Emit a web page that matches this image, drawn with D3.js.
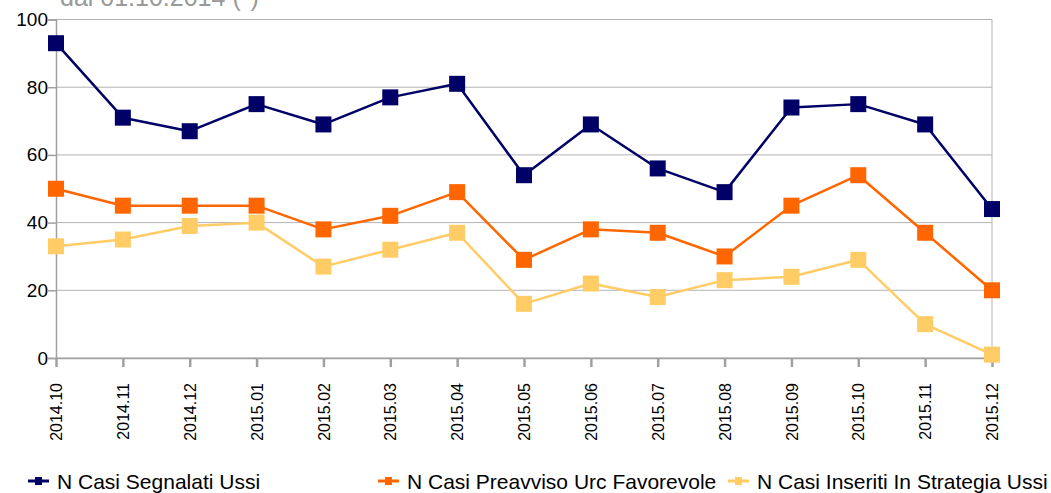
<!DOCTYPE html>
<html>
<head>
<meta charset="utf-8">
<script src="https://d3js.org/d3.v7.min.js"></script>
<style>
  body { margin: 0; background: #fff; }
  svg { display: block; font-family: "Liberation Sans", Arial, sans-serif; }
</style>
</head>
<body>
<svg id="chart" width="1051" height="493"></svg>
<script>
// data
var months = ["2014.10", "2014.11", "2014.12", "2015.01", "2015.02", "2015.03", "2015.04",
  "2015.05", "2015.06", "2015.07", "2015.08", "2015.09", "2015.10", "2015.11", "2015.12"];
var segnalati = [93, 71, 67, 75, 69, 77, 81, 54, 69, 56, 49, 74, 75, 69, 44];
var preavviso = [50, 45, 45, 45, 38, 42, 49, 29, 38, 37, 30, 45, 54, 37, 20];
var inseriti = [33, 35, 39, 40, 27, 32, 37, 16, 22, 18, 23, 24, 29, 10, 1];
var yTicks = [0, 20, 40, 60, 80, 100];
var seriesNames = ["N Casi Segnalati Ussi", "N Casi Preavviso Urc Favorevole", "N Casi Inseriti In Strategia Ussi"];
var colors = ["#000066", "#ff6600", "#ffcc66"];

var svg = d3.select("#chart");
var plotLeft = 56, plotRight = 992, plotTop = 19.5, plotBottom = 358;

var x = d3.scalePoint().domain(months).range([plotLeft, plotRight]);
var y = d3.scaleLinear().domain([0, 100]).range([plotBottom, plotTop]);

// partly hidden title above the plot
svg.append("text")
  .attr("x", 60).attr("y", 6)
  .attr("font-size", 25)
  .attr("fill", "#999")
  .text("dal 01.10.2014 (*)");

// gridlines
svg.append("g").selectAll("line")
  .data(yTicks)
  .join("line")
  .attr("x1", plotLeft).attr("x2", plotRight)
  .attr("y1", function (d) { return y(d); })
  .attr("y2", function (d) { return y(d); })
  .attr("stroke", "#b3b3b3")
  .attr("stroke-width", 1);

// right border
svg.append("line")
  .attr("x1", plotRight).attr("x2", plotRight)
  .attr("y1", y(100)).attr("y2", y(0))
  .attr("stroke", "#b3b3b3");

// y axis
var yAxis = svg.append("g")
  .attr("transform", "translate(" + plotLeft + ",0)")
  .call(d3.axisLeft(y).tickValues(yTicks).tickSize(8).tickPadding(0));
yAxis.select(".domain").attr("stroke", "#a0a0a0").attr("stroke-width", 1.5);
yAxis.selectAll(".tick line").attr("stroke", "#a0a0a0").attr("stroke-width", 1.5);
yAxis.selectAll(".tick text")
  .attr("font-size", 19)
  .attr("fill", "#000")
  .attr("font-family", "Liberation Sans, Arial, sans-serif");

// x axis
var xAxis = svg.append("g")
  .attr("transform", "translate(0," + plotBottom + ")")
  .call(d3.axisBottom(x).tickSize(9).tickSizeOuter(0));
xAxis.select(".domain").attr("stroke", "#a0a0a0").attr("stroke-width", 1.5);
xAxis.selectAll(".tick line").attr("stroke", "#a0a0a0").attr("stroke-width", 2.5);
xAxis.selectAll(".tick text")
  .attr("font-size", 16)
  .attr("fill", "#000")
  .attr("font-family", "Liberation Sans, Arial, sans-serif")
  .attr("text-anchor", "end")
  .attr("transform", "rotate(-90)")
  .attr("x", -25)
  .attr("y", 0)
  .attr("dx", 0)
  .attr("dy", "0.35em");

// series
var allSeries = [segnalati, preavviso, inseriti];
var line = d3.line()
  .x(function (d, i) { return x(months[i]); })
  .y(function (d) { return y(d); });

// draw back to front so the dark line is on top
[2, 1, 0].forEach(function (k) {
  var g = svg.append("g");
  g.append("path")
    .datum(allSeries[k])
    .attr("d", line)
    .attr("fill", "none")
    .attr("stroke", colors[k])
    .attr("stroke-width", 2.5)
    .attr("stroke-linejoin", "round");
  g.selectAll("rect")
    .data(allSeries[k])
    .join("rect")
    .attr("x", function (d, i) { return x(months[i]) - 8; })
    .attr("y", function (d) { return y(d) - 8; })
    .attr("width", 16)
    .attr("height", 16)
    .attr("fill", colors[k]);
});

// legend
var legendX = [28, 378, 728];
var legend = svg.append("g");
seriesNames.forEach(function (name, k) {
  var lg = legend.append("g").attr("transform", "translate(" + legendX[k] + ",481)");
  lg.append("line")
    .attr("x1", 0).attr("x2", 21)
    .attr("y1", 0).attr("y2", 0)
    .attr("stroke", colors[k]).attr("stroke-width", 3);
  lg.append("rect")
    .attr("x", 7).attr("y", -4)
    .attr("width", 7).attr("height", 8)
    .attr("fill", colors[k]);
  lg.append("text")
    .attr("x", 29).attr("y", 7.5)
    .attr("font-size", 21)
    .attr("fill", "#000")
    .text(name);
});
</script>
</body>
</html>
